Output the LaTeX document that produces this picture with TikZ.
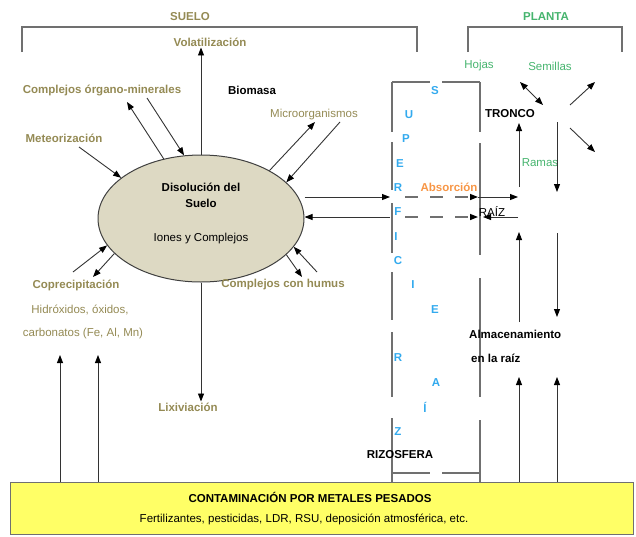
\documentclass[tikz,border=0pt]{standalone}
\usepackage{fontspec}
\setmainfont{Liberation Sans}
\usetikzlibrary{shapes.geometric,arrows.meta}
\definecolor{soiltan}{HTML}{948A54}
\definecolor{plantgreen}{HTML}{46B46E}
\definecolor{surfblue}{HTML}{33AAEE}
\definecolor{absorange}{HTML}{F79646}
\definecolor{soilfill}{HTML}{DDD9C3}
\definecolor{contyellow}{HTML}{FFFF66}
\definecolor{linegray}{HTML}{707070}
\newcommand{\lblsize}{\fontsize{11.5}{13}\selectfont}

\begin{document}
\begin{tikzpicture}[x=1pt,y=-1pt,
  lbl/.style={inner sep=1pt,font=\lblsize},
  lblb/.style={inner sep=1pt,font=\lblsize\bfseries},
  soil/.style={lblb,text=soiltan},
  soilthin/.style={lbl,text=soiltan},
  plant/.style={lbl,text=plantgreen},
  surf/.style={lblb,text=surfblue},
  wall/.style={draw=linegray,line width=1.4pt},
  flow/.style={draw=black!80,line width=0.9pt,-{Triangle[length=8pt,width=6pt,color=black]}},
  bflow/.style={flow,{Triangle[length=8pt,width=6pt,color=black]}-{Triangle[length=8pt,width=6pt,color=black]}},
  dflow/.style={wall,dash pattern=on 13pt off 12pt,-{Triangle[length=8pt,width=6pt,color=black]}}]
\useasboundingbox (0,0) rectangle (636,536);

\draw[wall] (22,52) -- (22,27) -- (417,27) -- (417,52);
\draw[wall] (468,52) -- (468,27) -- (622,27) -- (622,52);
\node[lblb,text=soiltan] (suelo) at (190,17) {SUELO};
\node[lblb,text=plantgreen] (planta) at (546,17) {PLANTA};

\node[draw=black!75,fill=soilfill,ellipse,line width=1pt,minimum width=206pt,minimum height=127pt,inner sep=0pt] (sol) at (201,218.5) {};
\node[lblb] (sdis) at (201,187) {Disolución del};
\node[lblb] (ssue) at (201,203) {Suelo};
\node[lbl] (sion) at (201,239) {Iones y Complejos};

\node[soil] (svol) at (210,42) {Volatilización};
\node[soil] (scomp) at (102,90) {Complejos órgano-minerales};
\node[lblb] (sbio) at (252,90) {Biomasa};
\node[soil] (smet) at (64,138) {Meteorización};
\node[soilthin] (smicro) at (314,115) {Microorganismos};
\node[soil] (scop) at (76,285) {Coprecipitación};
\node[soilthin] (shid) at (80,310) {Hidróxidos, óxidos,};
\node[soilthin] (scarb) at (83,334) {carbonatos (Fe, Al, Mn)};
\node[soil] (shum) at (283,285) {Complejos con humus};
\node[soil] (slix) at (188,407) {Lixiviación};

\draw[wall] (392,82) -- (430,82) (442,82) -- (480,82);
\draw[wall] (392,473) -- (430,473) (442,473) -- (480,473);
\foreach \ya/\yb in {82/132,142/190,203/253,272/320,332/397,418/482}
  \draw[wall] (392,\ya) -- (392,\yb);
\foreach \ya/\yb in {82/132,143/255,278/397,420/482}
  \draw[wall] (480,\ya) -- (480,\yb);
\foreach \ch/\px/\py [count=\i] in {S/435/91,U/409/115,P/406/139,E/400/164,R/398/188,F/398/212,I/396/237,C/398/261,I/413/285,E/435/310,R/398/358,A/436/383,Í/425/407,Z/398/432}
  \node[surf] (sup\i) at (\px,\py) {\ch};
\node[lblb] (riz) at (400,455) {RIZOSFERA};
\node[lblb,text=absorange] (pabs) at (449,187) {Absorción};
\node[lbl] (praiz) at (492,212) {RAÍZ};

\node[plant] (phoj) at (479,66) {Hojas};
\node[plant] (psem) at (550,66) {Semillas};
\node[lblb] (ptron) at (510,114) {TRONCO};
\node[plant] (pram) at (540,163) {Ramas};
\node[lblb,anchor=west] (palm) at (468,334) {Almacenamiento};
\node[lblb,anchor=west] (pen) at (470,358) {en la raíz};

\node[draw=linegray,fill=contyellow,line width=1pt,minimum width=623pt,minimum height=52pt,inner sep=0pt] (cont) at (321.5,508) {};
\node[lblb] (ctit) at (310,497) {CONTAMINACIÓN POR METALES PESADOS};
\node[lbl] (csub) at (304,519) {Fertilizantes, pesticidas, LDR, RSU, deposición atmosférica, etc.};

\coordinate (comOut) at (127,102);
\coordinate (comIn) at (147,98);
\coordinate (metIn) at (79,147);
\coordinate (micOut) at (315,122);
\coordinate (micIn) at (340,122);
\coordinate (humIn) at (317,272);
\coordinate (humOut) at (302,277);
\coordinate (copIn) at (73,272);
\coordinate (copOut) at (93,277);
\coordinate (absL) at (390,197);
\coordinate (desL) at (390,217);
\coordinate (absM) at (405,197);
\coordinate (desM) at (405,217);
\coordinate (absR) at (478,197);
\coordinate (desR) at (478,217);
\coordinate (raizA) at (518,197);
\coordinate (raizB) at (483,217);
\coordinate (raizC) at (518,217);
\coordinate (hojA) at (520,82);
\coordinate (hojB) at (543,105);
\coordinate (semA) at (570,105);
\coordinate (semB) at (595,82);
\coordinate (ramA) at (570,128);
\coordinate (ramB) at (595,152);
\coordinate (tr1) at (519,187);
\coordinate (tr2) at (519,123);
\coordinate (dn1) at (557,122);
\coordinate (dn2) at (557,192);
\coordinate (al1) at (519,322);
\coordinate (al2) at (519,232);
\coordinate (al3) at (557,233);
\coordinate (al4) at (557,317);
\coordinate (ct1) at (60,355);
\coordinate (ct2) at (98,355);
\coordinate (ct3) at (519,377);
\coordinate (ct4) at (557,377);

\draw[flow] (sol.north) -- (sol.north |- svol.south);
\draw[flow] (sol.122) -- (comOut);
\draw[flow] (comIn) -- (sol.105);
\draw[flow] (metIn) -- (sol.153);
\draw[flow] (sol.35) -- (micOut);
\draw[flow] (micIn) -- (sol.23);
\draw[flow] (humIn) -- (sol.343);
\draw[flow] (sol.337) -- (humOut);
\draw[flow] (copIn) -- (sol.196);
\draw[flow] (sol.202) -- (copOut);
\draw[flow] (sol.south) -- (sol.south |- slix.north);
\draw[flow] (sol.east |- absL) -- (absL);
\draw[flow] (desL) -- (sol.east |- desL);
\draw[dflow] (absM) -- (absR);
\draw[dflow] (desM) -- (desR);
\draw[flow] (absR) -- (raizA);
\draw[flow] (raizC) -- (raizB);

\draw[bflow] (hojA) -- (hojB);
\draw[flow] (semA) -- (semB);
\draw[flow] (ramA) -- (ramB);
\draw[flow] (tr1) -- (tr2);
\draw[flow] (dn1) -- (dn2);
\draw[flow] (al1) -- (al2);
\draw[flow] (al3) -- (al4);
\foreach \c in {ct1,ct2,ct3,ct4}
  \draw[flow] (\c |- cont.north) -- (\c);
\end{tikzpicture}
\end{document}
